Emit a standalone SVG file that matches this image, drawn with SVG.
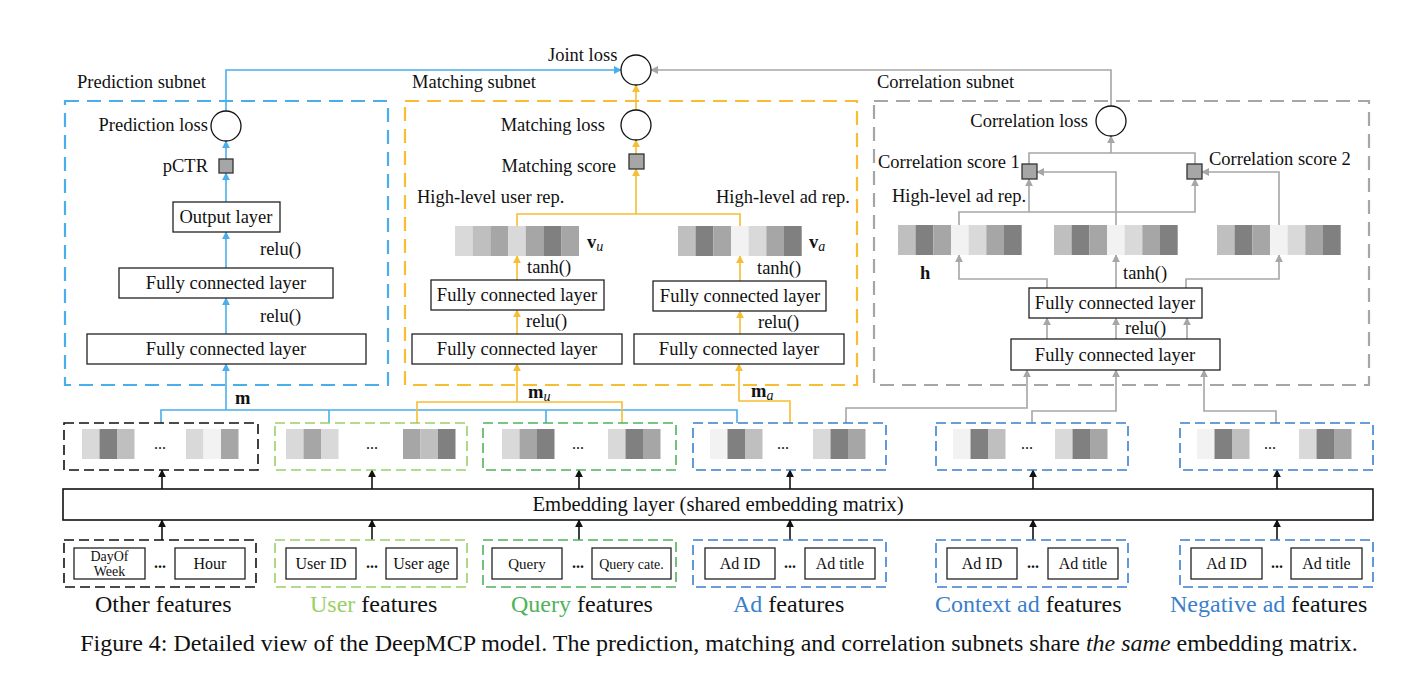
<svg xmlns="http://www.w3.org/2000/svg" width="1418" height="682" viewBox="0 0 1418 682">
<style>
text{font-family:"Liberation Serif","Times New Roman",serif;fill:#111;}
.t17{font-size:18.5px;}
.t16{font-size:16px;}
.t15{font-size:15px;}
.t14{font-size:14px;}
.t22{font-size:24px;}
.mid{text-anchor:middle;}
.end{text-anchor:end;}
.box{fill:#fff;stroke:#222;stroke-width:1.3;}
.sq{fill:#a6a6a6;stroke:#333;stroke-width:1.3;}
.circ{fill:#fff;stroke:#111;stroke-width:1.3;}
.dsub{fill:none;stroke-width:2.2;stroke-dasharray:14 8;}
.dgrp{fill:none;stroke-width:1.6;stroke-dasharray:10 5;}
.cb{fill:none;stroke:#4aaeea;stroke-width:1.6;}
.cy{fill:none;stroke:#f7bd33;stroke-width:1.6;}
.cg{fill:none;stroke:#a6a6a6;stroke-width:1.6;}
.ck{fill:none;stroke:#111;stroke-width:1.6;}
</style>
<defs>
<marker id="ab" viewBox="0 0 10 10" refX="9" refY="5" markerWidth="8" markerHeight="8" markerUnits="userSpaceOnUse" orient="auto"><path d="M0,0 L10,5 L0,10 z" fill="#4aaeea"/></marker>
<marker id="ay" viewBox="0 0 10 10" refX="9" refY="5" markerWidth="8" markerHeight="8" markerUnits="userSpaceOnUse" orient="auto"><path d="M0,0 L10,5 L0,10 z" fill="#f7bd33"/></marker>
<marker id="ag" viewBox="0 0 10 10" refX="9" refY="5" markerWidth="8" markerHeight="8" markerUnits="userSpaceOnUse" orient="auto"><path d="M0,0 L10,5 L0,10 z" fill="#a6a6a6"/></marker>
<marker id="ak" viewBox="0 0 10 10" refX="9" refY="5" markerWidth="8" markerHeight="8" markerUnits="userSpaceOnUse" orient="auto"><path d="M0,0 L10,5 L0,10 z" fill="#111"/></marker>
<g id="vecA">
<rect x="0" y="0" width="17.7" height="30" fill="#bfbfbf"/>
<rect x="17.6" y="0" width="17.7" height="30" fill="#808080"/>
<rect x="35.3" y="0" width="17.7" height="30" fill="#a6a6a6"/>
<rect x="53" y="0" width="17.7" height="30" fill="#f2f2f2"/>
<rect x="70.6" y="0" width="17.7" height="30" fill="#d9d9d9"/>
<rect x="88.3" y="0" width="17.7" height="30" fill="#a6a6a6"/>
<rect x="106" y="0" width="17.7" height="30" fill="#808080"/>
</g>
</defs>

<!-- subnet frames -->
<g id="prediction-subnet">
<rect class="dsub" x="65" y="101" width="323" height="284" stroke="#4aaeea"/>
<text class="t17" x="77" y="88">Prediction subnet</text>
</g>
<g id="matching-subnet">
<rect class="dsub" x="405" y="101" width="452" height="284" stroke="#f7bd33"/>
<text class="t17" x="412" y="88">Matching subnet</text>
</g>
<g id="correlation-subnet">
<rect class="dsub" x="874" y="101" width="495" height="284" stroke="#a6a6a6"/>
<text class="t17" x="877" y="88">Correlation subnet</text>
</g>

<!-- connectors -->
<g id="connectors">
<!-- blue -->
<line class="cb" x1="226" y1="334" x2="226" y2="298" marker-end="url(#ab)"/>
<line class="cb" x1="226" y1="268" x2="226" y2="232" marker-end="url(#ab)"/>
<line class="cb" x1="226" y1="202" x2="226" y2="173" marker-end="url(#ab)"/>
<line class="cb" x1="226" y1="159" x2="226" y2="141" marker-end="url(#ab)"/>
<polyline class="cb" points="226,111 226,70 621,70" marker-end="url(#ab)"/>
<polyline class="cb" points="161,423 161,410 737,410 737,423"/>
<line class="cb" x1="329" y1="410" x2="329" y2="423"/>
<line class="cb" x1="546" y1="410" x2="546" y2="423"/>
<line class="cb" x1="226" y1="410" x2="226" y2="364" marker-end="url(#ab)"/>
<!-- yellow -->
<line class="cy" x1="636" y1="110" x2="636" y2="85" marker-end="url(#ay)"/>
<line class="cy" x1="636" y1="154" x2="636" y2="140" marker-end="url(#ay)"/>
<polyline class="cy" points="517,226 517,214 740,214 740,226"/>
<line class="cy" x1="636" y1="214" x2="636" y2="169" marker-end="url(#ay)"/>
<line class="cy" x1="517" y1="280" x2="517" y2="256" marker-end="url(#ay)"/>
<line class="cy" x1="517" y1="334" x2="517" y2="310" marker-end="url(#ay)"/>
<line class="cy" x1="740" y1="281" x2="740" y2="256" marker-end="url(#ay)"/>
<line class="cy" x1="740" y1="334" x2="740" y2="311" marker-end="url(#ay)"/>
<polyline class="cy" points="417,423 417,402 622,402 622,423"/>
<line class="cy" x1="517" y1="402" x2="517" y2="364" marker-end="url(#ay)"/>
<polyline class="cy" points="790,423 790,401 739,401 739,364" marker-end="url(#ay)"/>
<!-- gray -->
<polyline class="cg" points="1111,106 1111,70 651,70" marker-end="url(#ag)"/>
<polyline class="cg" points="1029,164 1029,153 1195,153 1195,164"/>
<line class="cg" x1="1111" y1="153" x2="1111" y2="136" marker-end="url(#ag)"/>
<polyline class="cg" points="959,225 959,212 1195,212 1195,179" marker-end="url(#ag)"/>
<line class="cg" x1="1029" y1="212" x2="1029" y2="179" marker-end="url(#ag)"/>
<polyline class="cg" points="1116,225 1116,172 1037,172" marker-end="url(#ag)"/>
<polyline class="cg" points="1279,225 1279,172 1202,172" marker-end="url(#ag)"/>
<polyline class="cg" points="1047,288 1047,279 959,279 959,255" marker-end="url(#ag)"/>
<line class="cg" x1="1116" y1="288" x2="1116" y2="255" marker-end="url(#ag)"/>
<polyline class="cg" points="1186,288 1186,279 1279,279 1279,255" marker-end="url(#ag)"/>
<line class="cg" x1="1047" y1="339" x2="1047" y2="318" marker-end="url(#ag)"/>
<line class="cg" x1="1116" y1="339" x2="1116" y2="318" marker-end="url(#ag)"/>
<line class="cg" x1="1187" y1="339" x2="1187" y2="318" marker-end="url(#ag)"/>
<polyline class="cg" points="846,423 846,408 1027,408 1027,370" marker-end="url(#ag)"/>
<polyline class="cg" points="1032,423 1032,411 1116,411 1116,370" marker-end="url(#ag)"/>
<polyline class="cg" points="1276,423 1276,411 1204,411 1204,370" marker-end="url(#ag)"/>
<!-- black -->
<line class="ck" x1="162" y1="489" x2="162" y2="470" marker-end="url(#ak)"/>
<line class="ck" x1="372" y1="489" x2="372" y2="470" marker-end="url(#ak)"/>
<line class="ck" x1="579" y1="489" x2="579" y2="470" marker-end="url(#ak)"/>
<line class="ck" x1="790" y1="489" x2="790" y2="470" marker-end="url(#ak)"/>
<line class="ck" x1="1033" y1="489" x2="1033" y2="470" marker-end="url(#ak)"/>
<line class="ck" x1="1277" y1="489" x2="1277" y2="470" marker-end="url(#ak)"/>
<line class="ck" x1="162" y1="540" x2="162" y2="520" marker-end="url(#ak)"/>
<line class="ck" x1="372" y1="540" x2="372" y2="520" marker-end="url(#ak)"/>
<line class="ck" x1="579" y1="540" x2="579" y2="520" marker-end="url(#ak)"/>
<line class="ck" x1="790" y1="540" x2="790" y2="520" marker-end="url(#ak)"/>
<line class="ck" x1="1033" y1="540" x2="1033" y2="520" marker-end="url(#ak)"/>
<line class="ck" x1="1277" y1="540" x2="1277" y2="520" marker-end="url(#ak)"/>
</g>

<!-- joint loss -->
<g id="joint-loss">
<circle class="circ" cx="636" cy="70" r="15"/>
<text class="t17" x="548" y="61">Joint loss</text>
</g>

<!-- prediction nodes -->
<g id="prediction-loss">
<circle class="circ" cx="226" cy="126" r="15"/>
<text class="t17 end" x="208" y="131">Prediction loss</text>
</g>
<g id="pctr">
<rect class="sq" x="219" y="159" width="14" height="14"/>
<text class="t17 end" x="208" y="172">pCTR</text>
</g>
<g id="output-layer">
<rect class="box" x="173" y="202" width="107" height="30"/>
<text class="t17 mid" x="226" y="223">Output layer</text>
<text class="t17" x="260" y="255">relu()</text>
</g>
<g id="pred-fc1">
<rect class="box" x="119" y="268" width="214" height="30"/>
<text class="t17 mid" x="226" y="289">Fully connected layer</text>
<text class="t17" x="260" y="322">relu()</text>
</g>
<g id="pred-fc2">
<rect class="box" x="87" y="334" width="279" height="30"/>
<text class="t17 mid" x="226" y="355">Fully connected layer</text>
</g>
<text class="t17" x="235" y="404" font-weight="bold">m</text>

<!-- matching nodes -->
<g id="matching-loss">
<circle class="circ" cx="636" cy="125" r="15"/>
<text class="t17 end" x="605" y="131">Matching loss</text>
</g>
<g id="matching-score">
<rect class="sq" x="629" y="154" width="15" height="15"/>
<text class="t17 end" x="616" y="172">Matching score</text>
</g>
<g id="user-rep">
<text class="t17" x="417" y="203">High-level user rep.</text>
<rect x="455" y="226" width="17.8" height="30" fill="#d9d9d9"/>
<rect x="472.7" y="226" width="17.8" height="30" fill="#bfbfbf"/>
<rect x="490.4" y="226" width="17.8" height="30" fill="#a6a6a6"/>
<rect x="508.1" y="226" width="17.8" height="30" fill="#d9d9d9"/>
<rect x="525.8" y="226" width="17.8" height="30" fill="#a6a6a6"/>
<rect x="543.5" y="226" width="17.8" height="30" fill="#808080"/>
<rect x="561.2" y="226" width="17.8" height="30" fill="#a6a6a6"/>
<text class="t17" x="587" y="248"><tspan font-weight="bold">v</tspan><tspan font-style="italic" font-size="14" dy="3">u</tspan></text>
<text class="t17" x="527" y="273">tanh()</text>
</g>
<g id="ad-rep">
<text class="t17 end" x="850" y="203">High-level ad rep.</text>
<use href="#vecA" x="678" y="226"/>
<text class="t17" x="809" y="248"><tspan font-weight="bold">v</tspan><tspan font-style="italic" font-size="14" dy="3">a</tspan></text>
<text class="t17" x="757" y="274">tanh()</text>
</g>
<g id="match-user-fc1">
<rect class="box" x="431" y="280" width="173" height="30"/>
<text class="t17 mid" x="517" y="301">Fully connected layer</text>
<text class="t17" x="526" y="327">relu()</text>
</g>
<g id="match-user-fc2">
<rect class="box" x="412" y="334" width="210" height="30"/>
<text class="t17 mid" x="517" y="355">Fully connected layer</text>
</g>
<g id="match-ad-fc1">
<rect class="box" x="653" y="281" width="173" height="30"/>
<text class="t17 mid" x="740" y="302">Fully connected layer</text>
<text class="t17" x="758" y="328">relu()</text>
</g>
<g id="match-ad-fc2">
<rect class="box" x="634" y="334" width="210" height="30"/>
<text class="t17 mid" x="739" y="355">Fully connected layer</text>
</g>
<text class="t17" x="528" y="398"><tspan font-weight="bold">m</tspan><tspan font-style="italic" font-size="14" dy="3">u</tspan></text>
<text class="t17" x="751" y="397"><tspan font-weight="bold">m</tspan><tspan font-style="italic" font-size="14" dy="3">a</tspan></text>

<!-- correlation nodes -->
<g id="correlation-loss">
<circle class="circ" cx="1111" cy="121" r="15"/>
<text class="t17 end" x="1088" y="127">Correlation loss</text>
</g>
<g id="corr-score1">
<rect class="sq" x="1022" y="164" width="15" height="15"/>
<text class="t17" x="878" y="168">Correlation score 1</text>
</g>
<g id="corr-score2">
<rect class="sq" x="1187" y="164" width="15" height="15"/>
<text class="t17" x="1209" y="165">Correlation score 2</text>
</g>
<g id="corr-reps">
<text class="t17" x="892" y="202">High-level ad rep.</text>
<use href="#vecA" x="898" y="225"/>
<use href="#vecA" x="1054" y="225"/>
<use href="#vecA" x="1217" y="225"/>
<text class="t17" x="920" y="279" font-weight="bold">h</text>
<text class="t17" x="1123" y="279">tanh()</text>
</g>
<g id="corr-fc1">
<rect class="box" x="1029" y="288" width="173" height="30"/>
<text class="t17 mid" x="1115" y="309">Fully connected layer</text>
<text class="t17" x="1125" y="334">relu()</text>
</g>
<g id="corr-fc2">
<rect class="box" x="1011" y="339" width="209" height="31"/>
<text class="t17 mid" x="1115" y="361">Fully connected layer</text>
</g>

<!-- embedding groups -->
<g id="emb-other">
<rect class="dgrp" x="64" y="423" width="194" height="47" stroke="#111"/>
<rect x="82" y="429" width="17.5" height="30" fill="#d9d9d9"/><rect x="99.5" y="429" width="17.5" height="30" fill="#808080"/><rect x="117" y="429" width="17.5" height="30" fill="#bfbfbf"/>
<text class="t16 mid" x="160" y="449">...</text>
<rect x="186" y="429" width="17.5" height="30" fill="#d9d9d9"/><rect x="203.5" y="429" width="17.5" height="30" fill="#f2f2f2"/><rect x="221" y="429" width="17.5" height="30" fill="#a6a6a6"/>
</g>
<g id="emb-user">
<rect class="dgrp" x="275" y="423" width="192" height="47" stroke="#9bd067"/>
<rect x="286" y="429" width="17.5" height="30" fill="#d9d9d9"/><rect x="303.5" y="429" width="17.5" height="30" fill="#a6a6a6"/><rect x="321" y="429" width="17.5" height="30" fill="#d9d9d9"/>
<text class="t16 mid" x="372" y="449">...</text>
<rect x="403" y="429" width="17.5" height="30" fill="#a6a6a6"/><rect x="420.5" y="429" width="17.5" height="30" fill="#bfbfbf"/><rect x="438" y="429" width="17.5" height="30" fill="#808080"/>
</g>
<g id="emb-query">
<rect class="dgrp" x="483" y="423" width="193" height="47" stroke="#4fb359"/>
<rect x="502" y="429" width="17.5" height="30" fill="#d9d9d9"/><rect x="519.5" y="429" width="17.5" height="30" fill="#a6a6a6"/><rect x="537" y="429" width="17.5" height="30" fill="#808080"/>
<text class="t16 mid" x="578" y="449">...</text>
<rect x="608" y="429" width="17.5" height="30" fill="#d9d9d9"/><rect x="625.5" y="429" width="17.5" height="30" fill="#808080"/><rect x="643" y="429" width="17.5" height="30" fill="#a6a6a6"/>
</g>
<g id="emb-ad">
<rect class="dgrp" x="693" y="423" width="193" height="47" stroke="#3b7fcc"/>
<rect x="710" y="429" width="17.5" height="30" fill="#f2f2f2"/><rect x="727.5" y="429" width="17.5" height="30" fill="#808080"/><rect x="745" y="429" width="17.5" height="30" fill="#bfbfbf"/>
<text class="t16 mid" x="783" y="449">...</text>
<rect x="813" y="429" width="17.5" height="30" fill="#d9d9d9"/><rect x="830.5" y="429" width="17.5" height="30" fill="#808080"/><rect x="848" y="429" width="17.5" height="30" fill="#a6a6a6"/>
</g>
<g id="emb-context">
<rect class="dgrp" x="936" y="423" width="192" height="47" stroke="#3b7fcc"/>
<rect x="953" y="429" width="17.5" height="30" fill="#f2f2f2"/><rect x="970.5" y="429" width="17.5" height="30" fill="#808080"/><rect x="988" y="429" width="17.5" height="30" fill="#bfbfbf"/>
<text class="t16 mid" x="1027" y="449">...</text>
<rect x="1055" y="429" width="17.5" height="30" fill="#d9d9d9"/><rect x="1072.5" y="429" width="17.5" height="30" fill="#808080"/><rect x="1090" y="429" width="17.5" height="30" fill="#a6a6a6"/>
</g>
<g id="emb-negative">
<rect class="dgrp" x="1180" y="423" width="193" height="47" stroke="#3b7fcc"/>
<rect x="1197" y="429" width="17.5" height="30" fill="#f2f2f2"/><rect x="1214.5" y="429" width="17.5" height="30" fill="#808080"/><rect x="1232" y="429" width="17.5" height="30" fill="#bfbfbf"/>
<text class="t16 mid" x="1270" y="449">...</text>
<rect x="1299" y="429" width="17.5" height="30" fill="#d9d9d9"/><rect x="1316.5" y="429" width="17.5" height="30" fill="#808080"/><rect x="1334" y="429" width="17.5" height="30" fill="#a6a6a6"/>
</g>

<!-- embedding layer -->
<g id="embedding-layer">
<rect x="63" y="489" width="1310" height="31" fill="#fff" stroke="#111" stroke-width="1.6"/>
<text class="mid" x="718" y="511" font-size="20.7">Embedding layer (shared embedding matrix)</text>
</g>

<!-- feature groups -->
<g id="feat-other">
<rect class="dgrp" x="64" y="540" width="192" height="47" stroke="#111"/>
<rect class="box" x="74" y="548" width="71" height="31"/>
<text class="t14 mid" x="109.5" y="561">DayOf</text>
<text class="t14 mid" x="109.5" y="576">Week</text>
<text class="t16 mid" x="160" y="568" font-weight="bold">...</text>
<rect class="box" x="175" y="548" width="70" height="31"/>
<text class="t16 mid" x="210" y="569">Hour</text>
<text class="t22" x="95" y="612">Other features</text>
</g>
<g id="feat-user">
<rect class="dgrp" x="275" y="540" width="192" height="47" stroke="#9bd067"/>
<rect class="box" x="286" y="548" width="70" height="31"/>
<text class="t16 mid" x="321" y="569">User ID</text>
<text class="t16 mid" x="372" y="568" font-weight="bold">...</text>
<rect class="box" x="386" y="548" width="71" height="31"/>
<text class="t16 mid" x="421.5" y="569">User age</text>
<text class="t22" x="310" y="612"><tspan fill="#9bd067">User</tspan> features</text>
</g>
<g id="feat-query">
<rect class="dgrp" x="483" y="540" width="193" height="47" stroke="#4fb359"/>
<rect class="box" x="492" y="548" width="70" height="31"/>
<text class="t15 mid" x="527" y="569">Query</text>
<text class="t16 mid" x="578" y="568" font-weight="bold">...</text>
<rect class="box" x="592" y="548" width="79" height="31"/>
<text class="t14 mid" x="631.5" y="569">Query cate.</text>
<text class="t22" x="511" y="612"><tspan fill="#4fb359">Query</tspan> features</text>
</g>
<g id="feat-ad">
<rect class="dgrp" x="693" y="540" width="193" height="47" stroke="#3b7fcc"/>
<rect class="box" x="705" y="548" width="70" height="31"/>
<text class="t16 mid" x="740" y="569">Ad ID</text>
<text class="t16 mid" x="790" y="568" font-weight="bold">...</text>
<rect class="box" x="805" y="548" width="70" height="31"/>
<text class="t16 mid" x="840" y="569">Ad title</text>
<text class="t22" x="733" y="612"><tspan fill="#3b7fcc">Ad</tspan> features</text>
</g>
<g id="feat-context">
<rect class="dgrp" x="936" y="540" width="192" height="47" stroke="#3b7fcc"/>
<rect class="box" x="947" y="548" width="70" height="31"/>
<text class="t16 mid" x="982" y="569">Ad ID</text>
<text class="t16 mid" x="1033" y="568" font-weight="bold">...</text>
<rect class="box" x="1048" y="548" width="70" height="31"/>
<text class="t16 mid" x="1083" y="569">Ad title</text>
<text class="t22" x="935" y="612"><tspan fill="#3b7fcc">Context ad</tspan> features</text>
</g>
<g id="feat-negative">
<rect class="dgrp" x="1180" y="540" width="193" height="47" stroke="#3b7fcc"/>
<rect class="box" x="1191" y="548" width="71" height="31"/>
<text class="t16 mid" x="1226.5" y="569">Ad ID</text>
<text class="t16 mid" x="1277" y="568" font-weight="bold">...</text>
<rect class="box" x="1291" y="548" width="71" height="31"/>
<text class="t16 mid" x="1326.5" y="569">Ad title</text>
<text class="t22" x="1170" y="612"><tspan fill="#3b7fcc">Negative ad</tspan> features</text>
</g>

<text class="mid" x="719" y="651" font-size="24">Figure 4: Detailed view of the DeepMCP model. The prediction, matching and correlation subnets share <tspan font-style="italic">the same</tspan> embedding matrix.</text>
</svg>
